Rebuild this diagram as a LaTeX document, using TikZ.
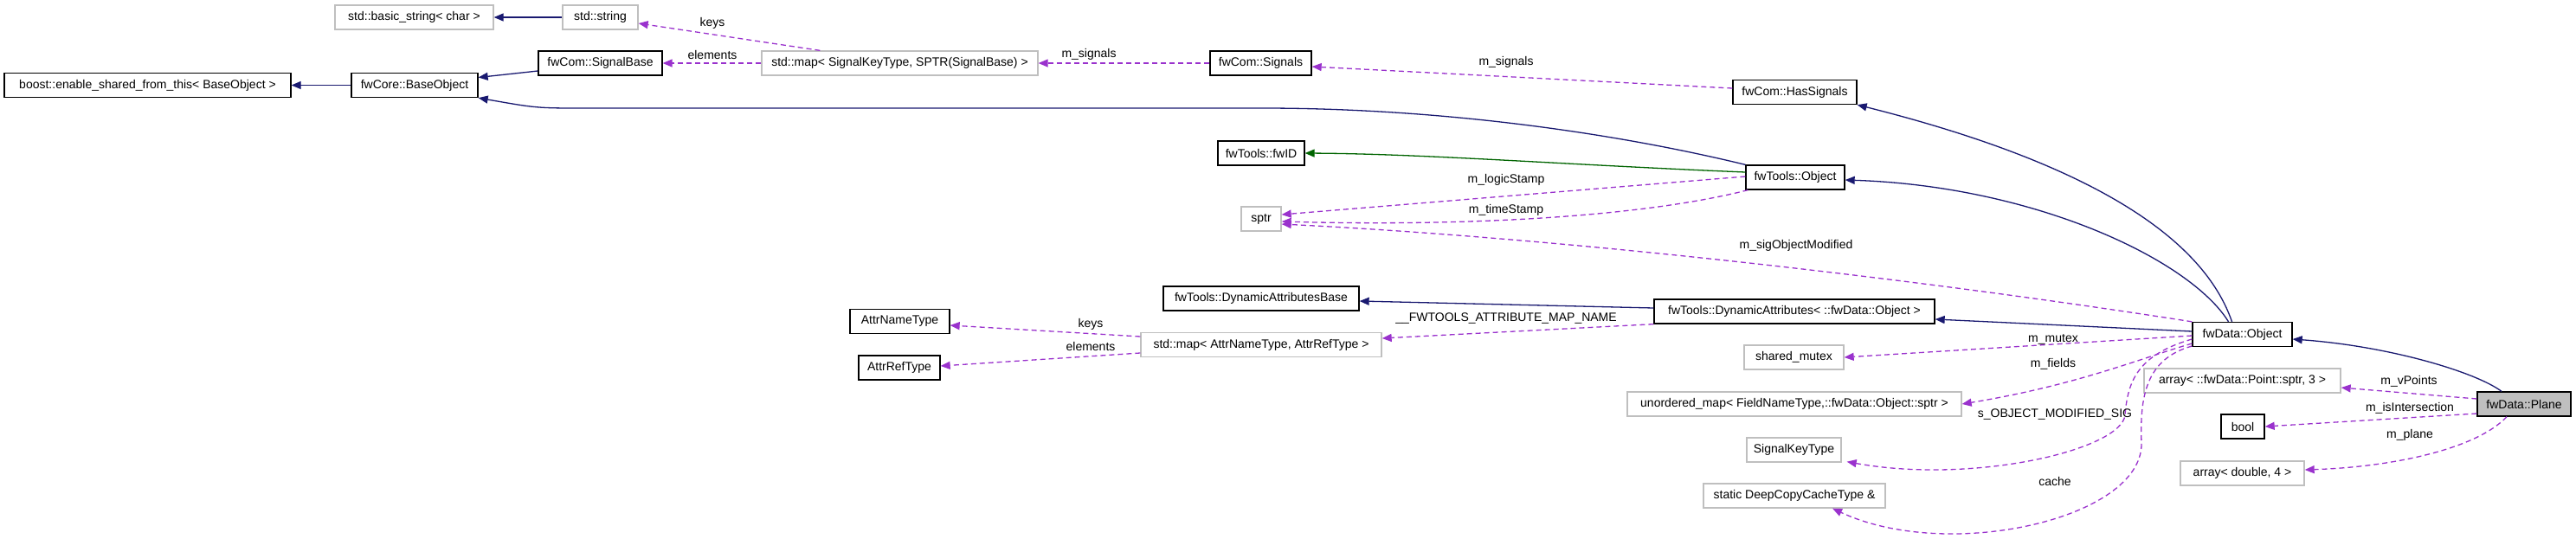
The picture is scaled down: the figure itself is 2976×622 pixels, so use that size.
\documentclass[tikz,border=0pt]{standalone}
\usepackage{fontspec}
\setmainfont{Liberation Sans}
\usepackage{tikz}
\usetikzlibrary{arrows.meta}

\definecolor{inhblue}{HTML}{191970}
\definecolor{usepurple}{HTML}{9A32CD}
\definecolor{tplgreen}{HTML}{006400}
\definecolor{extgray}{HTML}{BFBFBF}

\begin{document}
\begin{tikzpicture}[
x=1pt, y=-1pt,
font=\fontsize{14}{16}\selectfont,
cls/.style={
draw=black,
line width=1.3pt,
fill=white,
minimum height=28pt,
inner sep=0pt
},
ext/.style={cls, draw=extgray},
inh/.style={draw=inhblue, line width=1.3pt,
-{Triangle[length=11pt,width=9pt]}},
usage/.style={draw=usepurple, line width=1.3pt,
dash pattern=on 6pt off 4pt,
-{Triangle[length=11pt,width=9pt]}},
lbl/.style={inner sep=1pt}
]
\useasboundingbox (0,0) rectangle (2976,622);

% classes, left to right
\node[ext, minimum width=183pt] (bstr) at (478.5,20)
{std::basic\_string< char >};
\node[ext, minimum width=87pt] (str) at (693.5,20)
{std::string};
\node[cls, minimum width=331pt] (boost) at (170.5,98.5)
{boost::enable\_shared\_from\_this< BaseObject >};
\node[cls, minimum width=146pt] (baseobj) at (479,98.5)
{fwCore::BaseObject};
\node[cls, minimum width=143pt] (sigbase) at (693.5,73)
{fwCom::SignalBase};
\node[ext, minimum width=319pt] (sigmap) at (1039.5,73)
{std::map< SignalKeyType, SPTR(SignalBase) >};
\node[cls, minimum width=117pt] (signals) at (1456.5,73)
{fwCom::Signals};
\node[cls, minimum width=143pt] (hassig) at (2073.5,106.5)
{fwCom::HasSignals};
\node[cls, minimum width=100pt] (fwid) at (1457,177)
{fwTools::fwID};
\node[ext, minimum width=46pt] (sptr) at (1457,253)
{sptr};
\node[cls, minimum width=114pt] (toolsobj) at (2074,205)
{fwTools::Object};
\node[cls, minimum width=226pt] (dynbase) at (1457,345)
{fwTools::DynamicAttributesBase};
\node[cls, minimum width=324pt] (dynattr) at (2073,360)
{fwTools::DynamicAttributes< ::fwData::Object >};
\node[cls, minimum width=115pt] (dataobj) at (2590.5,386.5)
{fwData::Object};
\node[cls, minimum width=115pt] (attrname) at (1039.5,371.5)
{AttrNameType};
\node[cls, minimum width=94pt] (attrref) at (1039,425)
{AttrRefType};
\node[ext, minimum width=278pt] (attrmap) at (1457,398.5)
{std::map< AttrNameType, AttrRefType >};
\node[ext, minimum width=115pt] (mutex) at (2072.5,413)
{shared\_mutex};
\node[ext, minimum width=386pt] (umap) at (2073,467)
{unordered\_map< FieldNameType,::fwData::Object::sptr >};
\node[ext, minimum width=109pt] (sigkey) at (2072.5,520)
{SignalKeyType};
\node[ext, minimum width=210pt] (cache) at (2073,573)
{static DeepCopyCacheType \&};
\node[ext, minimum width=227pt] (arrpt) at (2590.5,440)
{array< ::fwData::Point::sptr, 3 >};
\node[cls, minimum width=50pt] (bool) at (2591,493)
{bool};
\node[ext, minimum width=143pt] (arrdbl) at (2590.5,547)
{array< double, 4 >};
\node[cls, fill=extgray, minimum width=108pt] (plane) at (2916,467)
{fwData::Plane};

% inheritance
\draw[inh] (str) -- (bstr);
\draw[inh] (baseobj) -- (boost);
\draw[inh] ([yshift=-9pt]sigbase.west) -- ([yshift=9pt]baseobj.east);
\draw[inh] (toolsobj.north west) .. controls (1850,150) and (1650,125) .. (1459,125)
-- (676,125) .. controls (620,125) .. (baseobj.south east);
\draw[inh, draw=tplgreen] ([yshift=6pt]toolsobj.west)
.. controls (1800,190) and (1650,178) .. (fwid.east);
\draw[inh] ([xshift=-12pt]dataobj.north)
.. controls (2540,260) and (2380,180) .. (hassig.south east);
\draw[inh] ([xshift=-16pt]dataobj.north)
.. controls (2530,300) and (2350,215) .. ([yshift=-3pt]toolsobj.east);
\draw[inh] ([yshift=3.5pt]dataobj.west) -- ([yshift=-9pt]dynattr.east);
\draw[inh] ([yshift=4pt]dynattr.west) -- ([yshift=-3pt]dynbase.east);
\draw[inh] ([xshift=-26pt]plane.north)
.. controls (2860,430) and (2760,400) .. ([yshift=-5.5pt]dataobj.east);

% members
\draw[usage] ([xshift=68pt]sigmap.north west) -- ([yshift=-7pt]str.east)
node[lbl, at={(823,27)}] {keys};
\draw[usage] (sigmap) -- (sigbase)
node[lbl, at={(823,63)}] {elements};
\draw[usage] (signals) -- (sigmap)
node[lbl, at={(1258,63)}] {m\_signals};
\draw[usage] ([yshift=4.5pt]hassig.west) -- ([yshift=-4pt]signals.east)
node[lbl, at={(1740,72)}] {m\_signals};
\draw[usage] ([yshift=1pt]toolsobj.west) -- ([yshift=5pt]sptr.east)
node[lbl, at={(1740,208)}] {m\_logicStamp};
\draw[usage] ([xshift=3pt]toolsobj.south west)
.. controls (1900,250) and (1700,262) .. ([yshift=-3pt]sptr.east)
node[lbl, at={(1740,243)}] {m\_timeStamp};
\draw[usage] (dataobj.north west)
.. controls (2200,320) and (1800,275) .. ([yshift=-6pt]sptr.east)
node[lbl, at={(2075,284)}] {m\_sigObjectModified};
\draw[usage] (dynattr.south west) -- ([yshift=7.5pt]attrmap.east)
node[lbl, at={(1740,368)}] {\_\_FWTOOLS\_ATTRIBUTE\_MAP\_NAME};
\draw[usage] ([yshift=9.5pt]attrmap.west) -- ([yshift=-4.5pt]attrname.east)
node[lbl, at={(1260,375)}] {keys};
\draw[usage] ([yshift=-9.5pt]attrmap.west) -- ([yshift=2pt]attrref.east)
node[lbl, at={(1260,400)}] {elements};
\draw[usage] ([yshift=-1.5pt]dataobj.west) -- (mutex.east)
node[lbl, at={(2372,392)}] {m\_mutex};
\draw[usage] ([yshift=-10.5pt]dataobj.west)
.. controls (2470,415) and (2400,445) .. (umap.east)
node[lbl, at={(2372,421)}] {m\_fields};
\draw[usage] ([yshift=-5.5pt]dataobj.west)
.. controls (2470,410) and (2458,440) .. (2455,480)
.. controls (2450,520) and (2280,560) .. ([xshift=6pt,yshift=1pt]sigkey.south east)
node[lbl, at={(2374,479)}] {s\_OBJECT\_MODIFIED\_SIG};
\draw[usage] ([yshift=-13.5pt]dataobj.west)
.. controls (2478,415) and (2472,460) .. (2474,513)
.. controls (2474,600) and (2250,650) .. ([xshift=44pt]cache.south)
node[lbl, at={(2374,556)}] {cache};
\draw[usage] ([yshift=6pt]plane.west) -- ([yshift=-8pt]arrpt.east)
node[lbl, at={(2783,441)}] {m\_vPoints};
\draw[usage] ([yshift=-11pt]plane.west) -- (bool.east)
node[lbl, at={(2784,472)}] {m\_isIntersection};
\draw[usage] ([xshift=-20pt]plane.south)
.. controls (2860,520) and (2760,540) .. ([yshift=4pt]arrdbl.east)
node[lbl, at={(2784,503)}] {m\_plane};

\end{tikzpicture}
\end{document}
